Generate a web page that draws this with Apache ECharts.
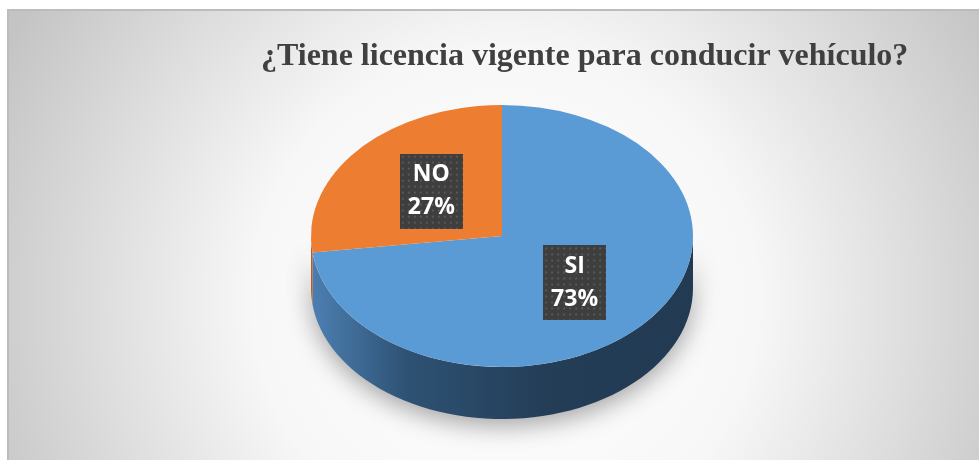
<!DOCTYPE html>
<html>
<head>
<meta charset="utf-8">
<title>Licencia vigente</title>
<script src="https://cdn.jsdelivr.net/npm/echarts@6/dist/echarts.min.js"></script>
<style>
  html, body { margin: 0; padding: 0; background: #fff; }
  #chart { width: 979px; height: 460px; }
</style>
</head>
<body>
<div id="chart"></div>
<script>
// datos del gráfico
const categories = ['SI', 'NO']
const values = [73, 27]

const chart = echarts.init(document.getElementById('chart'))

// geometría de la torta (elipse + espesor)
const cx = 502
const cy = 236
const rx = 191
const ry = 131
const depth = 52

const total = values.reduce((a, b) => a + b, 0)

// fondo punteado de las etiquetas
const makePattern = (w, h) => {
  const c = document.createElement('canvas')
  c.width = w
  c.height = h
  const ctx = c.getContext('2d')
  ctx.fillStyle = '#3e3e3e'
  ctx.fillRect(0, 0, w, h)
  ctx.fillStyle = '#585858'
  for (let y = 2; y < h; y += 6) {
    for (let x = 2; x < w; x += 6) {
      ctx.fillRect(x, y, 2, 2)
    }
  }
  return c
}
const labelBg = makePattern(63, 75)

const topColors = ['#5b9bd5', '#ed7d31']
const sideStops = [
  [
    { offset: 0, color: '#4d80b3' },
    { offset: 0.25, color: '#2e5274' },
    { offset: 0.6, color: '#243e58' },
    { offset: 1, color: '#223a52' }
  ],
  [
    { offset: 0, color: '#b55d22' },
    { offset: 1, color: '#8a4519' }
  ]
]

const renderItem = (params, api) => {
  const idx = params.dataIndex
  const val = api.value(0)
  let before = 0
  for (let i = 0; i < idx; i++) before += values[i]
  const start = -Math.PI / 2 + (2 * Math.PI * before) / total
  const end = start + (2 * Math.PI * val) / total
  const children = []

  // cara lateral visible (parte frontal, 0..PI)
  const a0 = Math.max(start, 0)
  const a1 = Math.min(end, Math.PI)
  if (a1 > a0) {
    const pts = []
    const n = 60
    for (let k = 0; k <= n; k++) {
      const a = a0 + ((a1 - a0) * k) / n
      pts.push([cx + rx * Math.cos(a), cy + ry * Math.sin(a)])
    }
    for (let k = n; k >= 0; k--) {
      const a = a0 + ((a1 - a0) * k) / n
      pts.push([cx + rx * Math.cos(a), cy + ry * Math.sin(a) + depth])
    }
    children.push({
      type: 'polygon',
      z2: 1,
      shape: { points: pts },
      style: {
        fill: new echarts.graphic.LinearGradient(cx - rx, 0, cx + rx, 0, sideStops[idx], true),
        shadowBlur: 24,
        shadowOffsetY: 7,
        shadowColor: 'rgba(0,0,0,0.35)'
      }
    })
  }

  // cara superior
  children.push({
    type: 'group',
    x: cx,
    y: cy,
    scaleY: ry / rx,
    z2: 5,
    children: [
      {
        type: 'sector',
        z2: 5,
        shape: { cx: 0, cy: 0, r: rx, r0: 0, startAngle: start, endAngle: end, clockwise: true },
        style: { fill: topColors[idx] }
      }
    ]
  })

  // etiqueta
  const mid = (start + end) / 2
  const pct = Math.round((val / total) * 100)
  children.push({
    type: 'text',
    z2: 10,
    x: cx + rx * 0.5 * Math.cos(mid) + 1,
    y: cy + ry * 0.53 * Math.sin(mid) + 1,
    style: {
      text: categories[idx] + '\n' + pct + '%',
      fill: '#ffffff',
      font: 'bold 23px "Open Sans"',
      lineHeight: 33,
      align: 'center',
      verticalAlign: 'middle',
      width: 63,
      height: 66,
      padding: [5, 0, 4, 0],
      backgroundColor: { image: labelBg },
      shadowBlur: 5,
      shadowOffsetX: 3,
      shadowOffsetY: 3,
      shadowColor: 'rgba(0,0,0,0.45)'
    }
  })

  return { type: 'group', children }
}

const option = {
  animation: false,
  title: {
    text: '¿Tiene licencia vigente para conducir vehículo?',
    left: 256,
    top: 36,
    textStyle: {
      fontFamily: 'Liberation Serif',
      fontWeight: 'bold',
      fontSize: 32,
      color: '#404040'
    }
  },
  graphic: [
    {
      type: 'rect',
      z: -10,
      shape: { x: 8, y: 10, width: 975, height: 455 },
      style: {
        fill: new echarts.graphic.RadialGradient(505, 300, 560, [
          { offset: 0, color: '#ffffff' },
          { offset: 0.45, color: '#f7f7f7' },
          { offset: 1, color: '#c4c4c4' }
        ], true),
        stroke: '#bcbcbc',
        lineWidth: 2
      }
    }
  ],
  series: [
    {
      type: 'custom',
      coordinateSystem: 'none',
      renderItem,
      data: values.map((v, i) => ({ name: categories[i], value: [v] }))
    }
  ]
}

chart.setOption(option)

window.addEventListener('resize', () => {
  chart.resize()
})
</script>
</body>
</html>
